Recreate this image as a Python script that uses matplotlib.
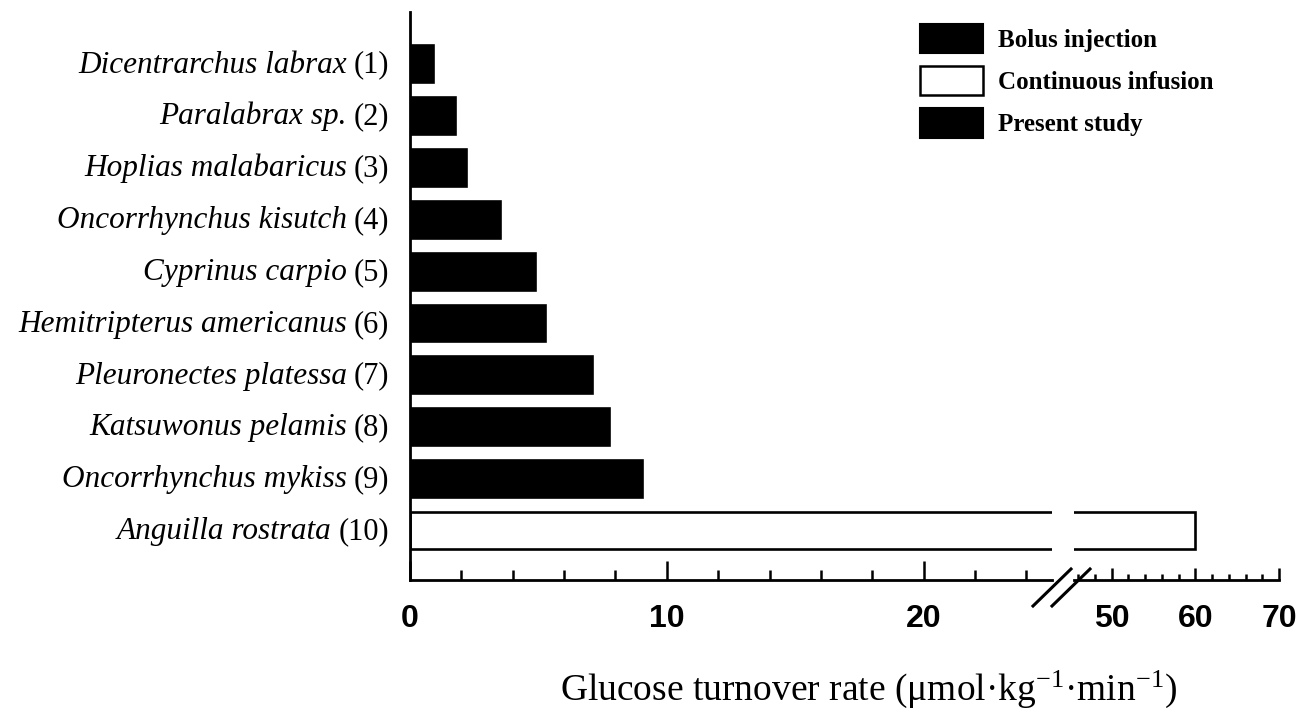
import matplotlib
matplotlib.use("Agg")
import matplotlib.pyplot as plt
from matplotlib.patches import Patch
from matplotlib.lines import Line2D
from matplotlib.ticker import MultipleLocator

# Glucose turnover rates of fish species (umol/kg/min)
species = ["Dicentrarchus labrax", "Paralabrax sp.", "Hoplias malabaricus",
           "Oncorrhynchus kisutch", "Cyprinus carpio", "Hemitripterus americanus",
           "Pleuronectes platessa", "Katsuwonus pelamis", "Oncorrhynchus mykiss",
           "Anguilla rostrata"]
refs = ["(1)", "(2)", "(3)", "(4)", "(5)", "(6)", "(7)", "(8)", "(9)", "(10)"]
rates = [0.9, 1.75, 2.2, 3.5, 4.85, 5.25, 7.1, 7.75, 9.05, 60.0]
method = ["bolus"] * 9 + ["infusion"]

legend_labels = ["Bolus injection", "Continuous infusion", "Present study"]
left_ticks = [0, 10, 20]
right_ticks = [50, 60, 70]

plt.rcParams['mathtext.fontset'] = 'custom'
plt.rcParams['mathtext.rm'] = 'Liberation Serif'
plt.rcParams['mathtext.it'] = 'Liberation Serif:italic'

W, H = 1311, 721
fig = plt.figure(figsize=(W / 100, H / 100), dpi=100)

def px_box(x0, x1, ytop, ybot):
    return [x0 / W, 1 - ybot / H, (x1 - x0) / W, (ybot - ytop) / H]

ax = fig.add_axes(px_box(410, 1052, 12, 580))
ax2 = fig.add_axes(px_box(1074, 1279, 12, 580))

ypos = list(range(len(species)))
lw = 1.9
for a in (ax, ax2):
    for y, r, m in zip(ypos, rates, method):
        face = "black" if m == "bolus" else "white"
        a.barh(y, r, height=0.71, color=face, edgecolor="black", linewidth=lw)
    a.set_ylim(9.96, -1.0)
    a.spines['top'].set_visible(False)
    a.spines['right'].set_visible(False)
    a.spines['bottom'].set_linewidth(2.0)
    a.set_yticks([])
    a.tick_params(axis='x', which='both', direction='in', width=1.8, pad=17)
    a.xaxis.set_minor_locator(MultipleLocator(2))

ax.set_xlim(0, 25)
ax.set_xticks(left_ticks)
ax.spines['left'].set_linewidth(2.0)
ax.tick_params(axis='x', which='major', length=14)
ax.tick_params(axis='x', which='minor', length=7)

ax2.set_xlim(45.5, 70)
ax2.set_xticks(right_ticks)
ax2.spines['left'].set_visible(False)
ax2.tick_params(axis='x', which='major', length=9)
ax2.tick_params(axis='x', which='minor', length=4.5)

for a in (ax, ax2):
    for lab in a.get_xticklabels():
        lab.set_fontfamily("Liberation Sans")
        lab.set_fontweight("bold")
        lab.set_fontsize(23)

# species names in italics, reference numbers upright
for y, name, ref in zip(ypos, species, refs):
    t = ax.annotate(ref, xy=(0, y + 0.17), xycoords=('axes fraction', 'data'),
                    xytext=(-15, 0), textcoords='offset points',
                    ha='right', va='baseline', fontsize=22,
                    family='Liberation Serif')
    ax.annotate(name, xy=(0, y + 0.17), xycoords=(t, 'data'),
                xytext=(-5, 0), textcoords='offset points',
                ha='right', va='baseline', fontsize=22.5,
                family='Liberation Serif', style='italic')

# axis break marks
for x0 in (1033, 1052):
    fig.add_artist(Line2D([x0 / W, (x0 + 38) / W], [1 - 606 / H, 1 - 569 / H],
                          color="black", linewidth=2.2))

fig.text(869 / W, 1 - 700 / H,
         "Glucose turnover rate (\u03bcmol\u00b7kg$^{-1}$\u00b7min$^{-1}$)",
         ha='center', va='baseline', fontsize=27, family='Liberation Serif')

handles = [Patch(facecolor="black", edgecolor="black", linewidth=1.5),
           Patch(facecolor="white", edgecolor="black", linewidth=1.8),
           Patch(facecolor="black", edgecolor="black", linewidth=1.5)]
fig.legend(handles, legend_labels, loc='upper left',
           bbox_to_anchor=(920 / W, 1 - 24 / H), bbox_transform=fig.transFigure,
           frameon=False, borderpad=0, borderaxespad=0,
           handlelength=2.5, handleheight=1.42, handletextpad=0.6,
           labelspacing=0.52,
           prop={'family': 'Liberation Serif', 'weight': 'bold', 'size': 18})

fig.savefig("out.png", dpi=100)
